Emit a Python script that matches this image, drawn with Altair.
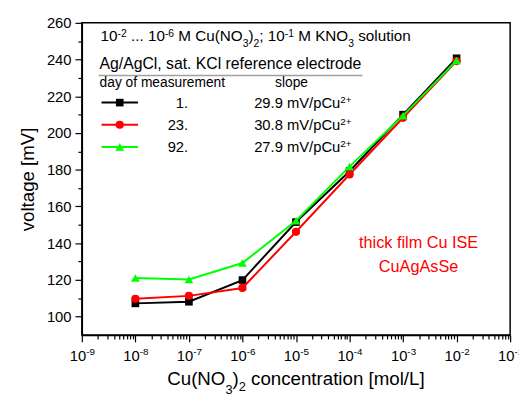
import altair as alt
import pandas as pd

# ---- data ----
conc = [1e-8, 1e-7, 1e-6, 1e-5, 1e-4, 1e-3, 1e-2]
v_day1 = [107.2, 108.1, 119.9, 151.5, 179.2, 210.0, 240.7]
v_day23 = [109.7, 111.3, 115.6, 146.2, 177.4, 208.3, 239.2]
v_day92 = [121.0, 120.2, 129.2, 152.2, 181.7, 209.5, 239.5]

days = ["1.", "23.", "92."]
slope_vals = ["29.9", "30.8", "27.9"]
colors = ["#000000", "#ff0000", "#00ff00"]
shapes = ["square", "circle", "triangle-up"]
sizes = [60, 70, 80]

x_major = [1e-9, 1e-8, 1e-7, 1e-6, 1e-5, 1e-4, 1e-3, 1e-2, 1e-1]
x_exps = ["-9", "-8", "-7", "-6", "-5", "-4", "-3", "-2", "-1"]
x_minor = [m * 10.0 ** k for k in range(-9, -1) for m in range(2, 10)]
y_major = [100, 120, 140, 160, 180, 200, 220, 240, 260]
y_minor = [110, 130, 150, 170, 190, 210, 230, 250]

# rich text pieces: (text, kind) kind n = normal, sup, sub, sub2 (lower subscript)
title1 = [("10", "n"), ("-2", "sup"), (" ... 10", "n"), ("-6", "sup"),
          (" M Cu(NO", "n"), ("3", "sub"), (")", "n"), ("2", "sub"), ("; 10", "n"),
          ("-1", "sup"), (" M KNO", "n"), ("3", "sub"), (" solution", "n")]
title2 = "Ag/AgCl, sat. KCl reference electrode"
hdr_day = "day of measurement"
hdr_slope = "slope"
note1 = "thick film Cu ISE"
note2 = "CuAgAsSe"
x_title = [("Cu(NO", "n"), ("3", "sub2"), (")", "n"), ("2", "sub"),
           (" concentration [mol/L]", "n")]
y_title = "voltage [mV]"

FONT = "Liberation Sans"
W, H = 435, 317

# Arial / Liberation Sans advance widths (1/1000 em)
AW = {c: 556 for c in "0123456789"}
AW.update({" ": 278, ".": 278, ",": 278, ";": 278, "-": 333, "+": 584, "(": 333,
           ")": 333, "[": 278, "]": 278, "/": 278, "A": 667, "C": 722, "E": 667, "I": 278,
           "K": 667, "L": 556, "M": 833, "N": 722, "O": 778, "S": 667, "V": 667, "a": 556,
           "c": 500, "d": 556, "e": 556, "f": 278, "g": 556, "h": 556, "i": 222, "k": 500,
           "l": 222, "m": 833, "n": 556, "o": 556, "p": 556, "r": 333, "s": 500, "t": 278,
           "u": 556, "y": 500})


def tw(t, size):
    return sum(AW.get(ch, 556) for ch in t) * size / 1000.0


def rich(pieces, x, y, size, small, align="left", color="black", raise_=5, drop=6, drop2=9):
    total = sum(tw(t, size if k == "n" else small) for t, k in pieces)
    cx = x if align == "left" else x - total / 2.0
    out = []
    for t, k in pieces:
        fs = size if k == "n" else small
        dy = {"n": 0, "sup": -raise_, "sub": drop, "sub2": drop2}[k]
        lead = len(t) - len(t.lstrip(" "))
        shown = t.strip(" ")
        out.append(alt.Chart().mark_text(align="left", baseline="alphabetic", fontSize=fs,
                                         font=FONT, color=color).encode(
            x=alt.value(cx + tw(" " * lead, fs)), y=alt.value(y + dy),
            text=alt.value(shown)))
        cx += tw(t, fs)
    return out


xscale = alt.Scale(type="log", domain=[1e-9, 1e-1], nice=False)
yscale = alt.Scale(domain=[90, 260], nice=False, zero=False)


def lab_expr(labels):
    parts = [f"datum.value < {v * 3:.3e} ? '{lab}'" for v, lab in zip(x_major, labels)]
    return " : ".join(parts) + " : ''"


x_axis = alt.Axis(values=x_major, labelExpr="'10'", title=None, tickSize=7,
                  labelFontSize=15, labelPadding=7, labelOffset=-4.5, labelFlush=False,
                  labelOverlap=False, grid=False,
                  orient="bottom", domainColor="black", tickColor="black",
                  labelColor="black", domainWidth=1.5, tickWidth=1.2, labelFont=FONT)
y_axis = alt.Axis(values=y_major, title=y_title, tickSize=7, labelFontSize=15,
                  titleFontSize=19, titleFontWeight="normal", labelPadding=4,
                  titlePadding=9, grid=False, orient="left",
                  domainColor="black", tickColor="black", labelColor="black",
                  titleColor="black", domainWidth=1.5, tickWidth=1.2,
                  labelFont=FONT, titleFont=FONT)

series = [v_day1, v_day23, v_day92]
layers = []
for vals, c, s, sz in zip(series, colors, shapes, sizes):
    df = pd.DataFrame({"conc": conc, "voltage": vals})
    enc = dict(x=alt.X("conc:Q", scale=xscale, axis=x_axis),
               y=alt.Y("voltage:Q", scale=yscale, axis=y_axis))
    base = alt.Chart(df).encode(**enc)
    layers.append(base.mark_line(color=c, strokeWidth=2))
    layers.append(base.mark_point(shape=s, filled=True, opacity=1, color=c, size=sz))


def txt(t, x, y, size, align="left", color="black"):
    return alt.Chart().mark_text(align=align, baseline="alphabetic", fontSize=size,
                                 font=FONT, color=color).encode(
        x=alt.value(x), y=alt.value(y), text=alt.value(t))


layers += rich(title1, 19, 18.5, 15.5, 10.5, raise_=4.5, drop=6)
layers.append(txt(title2, 18, 46.5, 16))
layers.append(alt.Chart().mark_rule(color="#a0a0a0", strokeWidth=1.5).encode(
    x=alt.value(17), x2=alt.value(285), y=alt.value(53.5)))
layers.append(txt(hdr_day, 18, 65, 14))
layers.append(txt(hdr_slope, 213, 65, 14, align="center"))
row_y = [81, 103.5, 126]
for d, sl, c, s, sz, ry in zip(days, slope_vals, colors, shapes, sizes, row_y):
    layers.append(alt.Chart().mark_rule(color=c, strokeWidth=2).encode(
        x=alt.value(20), x2=alt.value(57), y=alt.value(ry)))
    layers.append(alt.Chart().mark_point(shape=s, filled=True, opacity=1,
                                         color=c, size=sz).encode(
        x=alt.value(38.5), y=alt.value(ry)))
    layers.append(txt(d, 108, ry + 5.5, 15, align="right"))
    layers += rich([(sl + " mV/pCu", "n"), ("2+", "sup")], 175, ry + 5.5, 15, 10, raise_=5.5)
layers.append(txt(note1, 342, 229, 16.5, align="center", color="#ff0000"))
layers.append(txt(note2, 342, 253, 16.5, align="center", color="#ff0000"))
layers += rich(x_title, W / 2.0, 368, 19, 13, align="center", drop=6, drop2=9)

main = alt.layer(*layers)

minor_df = pd.DataFrame({"conc": conc, "voltage": v_day1})
# minor ticks (independent axes on the same scales)
minor = alt.Chart(minor_df).mark_point(opacity=0).encode(
    x=alt.X("conc:Q", scale=xscale,
            axis=alt.Axis(values=x_minor, labels=False, domain=False, tickSize=4,
                          title=None, grid=False, orient="bottom",
                          tickColor="black", tickWidth=1.2)),
    y=alt.Y("voltage:Q", scale=yscale,
            axis=alt.Axis(values=y_minor, labels=False, domain=False, tickSize=4,
                          title=None, grid=False, orient="left",
                          tickColor="black", tickWidth=1.2)),
)
# exponent labels for the x axis
expo = alt.Chart(minor_df).mark_point(opacity=0).encode(
    x=alt.X("conc:Q", scale=xscale,
            axis=alt.Axis(values=x_major, labelExpr=lab_expr(x_exps), domain=False,
                          ticks=False, labelFontSize=10, labelPadding=12,
                          labelOffset=8.3, labelFlush=False, labelOverlap=False,
                          labelColor="black", labelFont=FONT,
                          title=None, grid=False, orient="bottom")),
    y=alt.Y("voltage:Q", scale=yscale, axis=None),
)

chart = alt.layer(main, minor, expo).resolve_axis(x="independent", y="independent").properties(
    width=W, height=H,
    autosize=alt.AutoSizeParams(type="none"),
    padding={"left": 75, "top": 12, "right": 9, "bottom": 65},
).configure(font=FONT).configure_view(stroke="black", strokeWidth=1.5)

chart.save("out.html", embed_options={"renderer": "svg", "actions": False})
